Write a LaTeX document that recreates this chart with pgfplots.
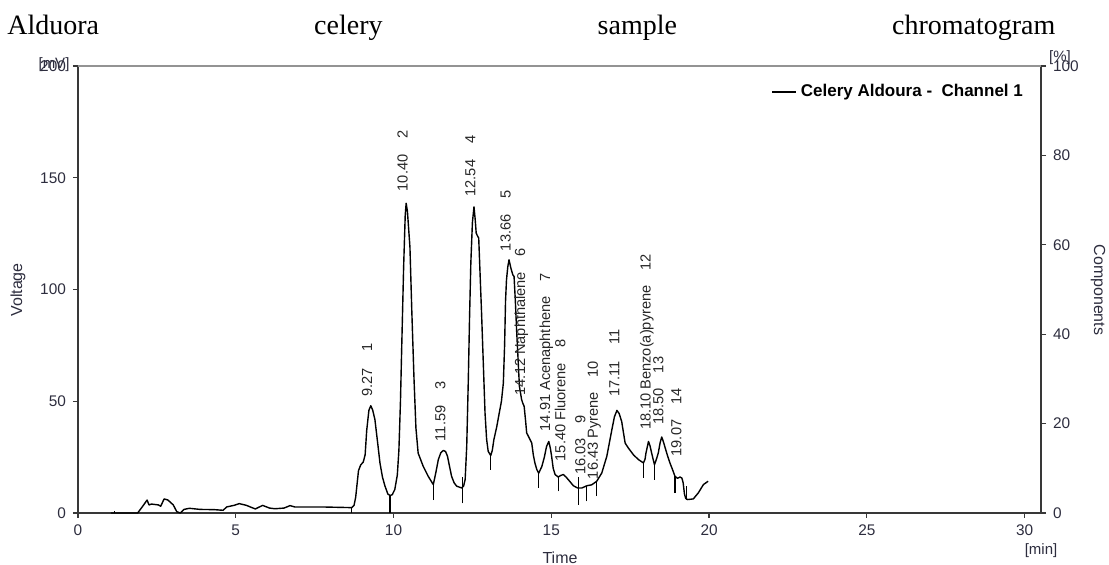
\documentclass[border=0pt]{standalone}
\usepackage{pgfplots}
\pgfplotsset{compat=1.18}
\usepackage{fontspec}
\setmainfont{Liberation Sans}
\newfontfamily\titlefont{Liberation Serif}
\definecolor{axgray}{gray}{0.22}
\definecolor{lblc}{RGB}{45,45,62}
\tikzset{
  pklabel/.style={rotate=90, anchor=base west, inner sep=0pt, font=\fontsize{7.3}{8}\selectfont, text=black!85},
}
\pgfplotsset{
  tk/.style={black, line width=0.6pt, forget plot},
}
\begin{document}
\begin{tikzpicture}
\useasboundingbox (-39pt,-26pt) rectangle (515.5pt,256.5pt);
\begin{axis}[
  at={(0pt,0pt)}, anchor=south west, scale only axis,
  width=481.5pt, height=223.5pt,
  xmin=0, xmax=30.52, ymin=0, ymax=200,
  axis x line*=bottom, axis y line*=left,
  axis line style={color=axgray, line width=0.9pt},
  xtick={0,5,...,30}, ytick={0,50,...,200},
  tick align=outside, major tick length=2.5pt,
  tick style={color=axgray, line width=0.6pt},
  tick label style={font=\fontsize{7.7}{9}\selectfont, color=lblc},
  /pgf/number format/assume math mode=true,
  clip=false,
  legend style={at={(axis description cs:0.7197,0.9418)}, anchor=west, draw=none, fill=none, inner sep=0pt,
    font=\fontsize{8.5}{10}\selectfont\bfseries, text=black},
  legend image code/.code={\draw[#1] (0pt,0pt) -- (12pt,0pt);},
  legend cell align=left,
]
\addplot[black, line width=0.7pt, line join=round] coordinates {
(1.04,0) (1.89,0) (2.05,3) (2.19,5.8) (2.25,3.6) (2.33,4.0) (2.55,3.6) (2.62,3.0) (2.73,6.3) (2.85,5.8)
(3.02,3.6) (3.13,0.6) (3.24,0) (3.36,1.6) (3.53,2.1) (3.87,1.6) (4.32,1.5) (4.60,1.2) (4.71,2.7) (4.94,3.4)
(5.11,4.2) (5.34,3.4) (5.62,1.8) (5.85,3.4) (6.07,2.2) (6.24,1.9) (6.53,2.2) (6.72,3.3) (6.87,2.7) (7.72,2.7)
(8.68,2.4) (8.75,3.5) (8.80,7) (8.89,19) (8.96,21.5) (9.04,22.8) (9.10,26) (9.15,37) (9.22,46) (9.28,48)
(9.34,46) (9.41,41.8) (9.50,31) (9.57,22.4) (9.65,16) (9.73,12) (9.82,8.5) (9.89,7.8) (9.96,8.2) (10.04,10.5)
(10.12,17) (10.17,28) (10.22,50) (10.26,74.5) (10.32,110) (10.37,133) (10.40,138.6) (10.44,135) (10.52,119) (10.58,90)
(10.65,59.6) (10.71,38) (10.78,26.8) (10.94,20.9) (11.10,16.4) (11.26,12.7) (11.34,18) (11.42,23.9) (11.50,27) (11.58,28)
(11.65,27.5) (11.71,25.4) (11.78,20.5) (11.84,16.4) (11.92,13.5) (12.00,12) (12.16,11.2) (12.22,12) (12.27,15) (12.32,30)
(12.37,59.6) (12.41,88) (12.45,111.9) (12.50,130) (12.55,137) (12.59,131) (12.62,125.2) (12.66,124) (12.70,123) (12.74,108)
(12.79,89.5) (12.85,65) (12.90,44.7) (12.95,33) (13.00,27.6) (13.08,25.7) (13.13,28) (13.18,32.8) (13.27,38.5) (13.35,44.7)
(13.42,50) (13.48,58.1) (13.52,75) (13.55,95) (13.58,104.3) (13.62,110) (13.66,113.3) (13.72,109.5) (13.78,106.6) (13.82,105.8)
(13.86,95) (13.90,82) (13.95,68) (13.99,56.6) (14.06,50.7) (14.10,49) (14.14,47.7) (14.18,42) (14.22,35.8) (14.30,33.6)
(14.38,31.3) (14.43,26) (14.48,22.4) (14.54,19.5) (14.60,17.8) (14.70,20.8) (14.78,25) (14.85,29.8) (14.92,32) (14.97,29)
(15.01,25.4) (15.06,20) (15.12,17.2) (15.22,16.1) (15.30,16.8) (15.38,17.2) (15.46,16.2) (15.54,14.9) (15.70,12.2) (15.83,11.2)
(15.97,11.2) (16.13,12.2) (16.28,12.6) (16.44,14.2) (16.60,17.9) (16.76,25.4) (16.92,37.3) (17.00,43) (17.08,45.9) (17.15,44.5)
(17.23,41) (17.34,31.3) (17.44,29.1) (17.60,26.1) (17.76,23.9) (17.92,22.4) (17.97,24) (18.00,26.8) (18.08,32) (18.13,30)
(18.18,26.8) (18.27,21.6) (18.33,24) (18.39,26.8) (18.45,31.5) (18.50,34) (18.55,32) (18.61,29.1) (18.68,25.8) (18.76,22.4)
(18.84,19.5) (18.92,16.4) (19.00,15.5) (19.08,16.1) (19.14,15.6) (19.18,13.4) (19.22,8.5) (19.26,6.5) (19.32,6.0) (19.50,6.3)
(19.66,9) (19.82,12.7) (19.97,14.2)
};
\addlegendentry{Celery Aldoura -\ \ Channel 1}
% integration markers
\addplot[tk] coordinates {(1.15,0) (1.15,0.8)};
\addplot[tk] coordinates {(8.68,0) (8.68,2.4)};
\addplot[tk] coordinates {(9.89,0) (9.89,7.8)};
\addplot[tk] coordinates {(11.26,5.8) (11.26,12.7)};
\addplot[tk] coordinates {(12.19,4.3) (12.19,16)};
\addplot[tk] coordinates {(13.08,19.3) (13.08,25.7)};
\addplot[tk] coordinates {(14.60,11.2) (14.60,17.8)};
\addplot[tk] coordinates {(15.22,9.7) (15.22,16.1)};
\addplot[tk] coordinates {(15.85,3.7) (15.85,16)};
\addplot[tk] coordinates {(16.12,5.2) (16.12,12.2)};
\addplot[tk] coordinates {(16.44,7.5) (16.44,14.2)};
\addplot[tk] coordinates {(17.92,15.7) (17.92,22.4)};
\addplot[tk] coordinates {(18.27,14.9) (18.27,21.6)};
\addplot[tk] coordinates {(18.92,8.9) (18.92,16.4)};
\addplot[tk] coordinates {(19.29,6) (19.29,12)};
% peak labels
\node[pklabel] at (axis cs:9.32,52) {9.27\hspace{8pt}1};
\node[pklabel] at (axis cs:10.45,143.8) {10.40\hspace{8pt}2};
\node[pklabel] at (axis cs:11.64,32) {11.59\hspace{8pt}3};
\node[pklabel] at (axis cs:12.59,141.5) {12.54\hspace{8pt}4};
\node[pklabel] at (axis cs:13.71,117) {13.66\hspace{8pt}5};
\node[pklabel] at (axis cs:14.17,52.5) {14.12 Naphthalene\hspace{7.5pt}6};
\node[pklabel] at (axis cs:14.96,36.4) {14.91 Acenaphthene\hspace{7.5pt}7};
\node[pklabel] at (axis cs:15.45,23) {15.40 Fluorene\hspace{7.5pt}8};
\node[pklabel] at (axis cs:16.08,17) {16.03\hspace{7.5pt}9};
\node[pklabel] at (axis cs:16.48,15) {16.43 Pyrene\hspace{7.5pt}10};
\node[pklabel] at (axis cs:17.16,52) {17.11\hspace{8pt}11};
\node[pklabel] at (axis cs:18.15,37) {18.10 Benzo(a)pyrene\hspace{7.5pt}12};
\node[pklabel] at (axis cs:18.55,39.4) {18.50\hspace{7.5pt}13};
\node[pklabel] at (axis cs:19.12,25.2) {19.07\hspace{7.5pt}14};
\end{axis}
\begin{axis}[
  at={(0pt,0pt)}, anchor=south west, scale only axis,
  width=481.5pt, height=223.5pt,
  xmin=0, xmax=30.52, ymin=0, ymax=100,
  axis x line=none, axis y line*=right,
  axis line style={color=axgray, line width=0.9pt},
  ytick={0,20,...,100},
  tick align=outside, major tick length=2.5pt,
  tick style={color=axgray, line width=0.6pt},
  tick label style={font=\fontsize{7.7}{9}\selectfont, color=lblc},
  /pgf/number format/assume math mode=true,
]
\end{axis}
\draw[color=gray!85, line width=1pt] (0pt,223.5pt) -- (481.5pt,223.5pt);
% title
\node[anchor=base west, inner sep=0pt] at (-35.5pt,239.3pt) {\titlefont\fontsize{14}{16}\selectfont\makebox[524pt][s]{Alduora celery sample chromatogram}};
% axis titles
\node[rotate=90, font=\fontsize{8}{9.6}\selectfont, text=lblc] at (-30pt,111.5pt) {Voltage};
\node[rotate=-90, font=\fontsize{8}{9.6}\selectfont, text=lblc] at (510pt,111.5pt) {Components};
\node[font=\fontsize{8}{9.6}\selectfont, text=lblc] at (241pt,-22.5pt) {Time};
\node[font=\fontsize{7.5}{9}\selectfont, text=lblc] at (481.5pt,-19pt) {[min]};
\node[font=\fontsize{7.5}{9}\selectfont, text=lblc] at (-12pt,224pt) {[mV]};
\node[font=\fontsize{7.5}{9}\selectfont, text=lblc] at (491pt,227.5pt) {[\%]};
\end{tikzpicture}
\end{document}
